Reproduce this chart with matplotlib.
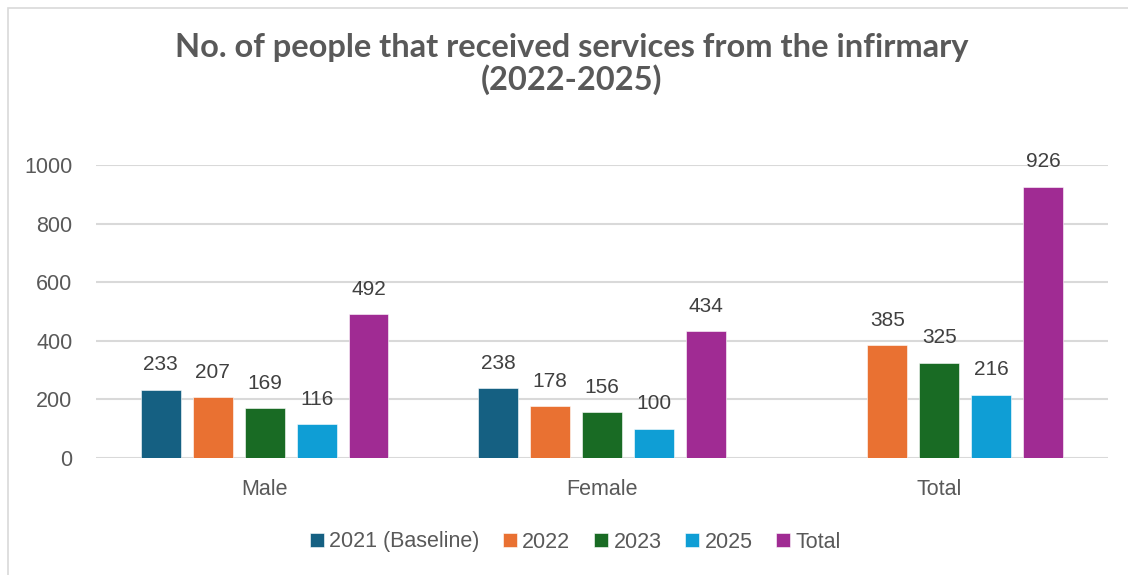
import matplotlib
matplotlib.use("Agg")
import matplotlib.pyplot as plt
from matplotlib.patches import Rectangle
import numpy as np

categories = ["Male", "Female", "Total"]
series_names = ["2021 (Baseline)", "2022", "2023", "2025", "Total"]
v2021 = [233, 238, np.nan]
v2022 = [207, 178, 385]
v2023 = [169, 156, 325]
v2025 = [116, 100, 216]
vtotal = [492, 434, 926]
yticks = [0, 200, 400, 600, 800, 1000]

series = [v2021, v2022, v2023, v2025, vtotal]
colors = ["#156082", "#E97132", "#196B24", "#0F9ED5", "#A02B93"]

plt.rcParams['font.family'] = ['Liberation Sans', 'DejaVu Sans']

fig = plt.figure(figsize=(11.28, 5.75), dpi=100)
ax = fig.add_axes([96/1128, 1-458/575, (1108-96)/1128, (458-165)/575])

# chart frame
fig.patches.append(Rectangle((8/1128, -0.1), 1.2, 1 - 8/575 + 0.1, transform=fig.transFigure,
                             fill=False, edgecolor="#d9d9d9", linewidth=1.2))

x = np.arange(len(categories))
width = 0.118
step = 0.154
for i, (vals, name, c) in enumerate(zip(series, series_names, colors)):
    pos = x + (i - 2) * step
    ax.bar(pos, vals, width=width, color=c, label=name, zorder=3,
           edgecolor="white", linewidth=0.4)
    for p, v in zip(pos, vals):
        if np.isnan(v):
            continue
        ax.annotate(f"{int(v)}", (p, v), xytext=(0, 11), textcoords="offset points",
                    ha="center", va="bottom", fontsize=15, color="#404040")

ax.set_xlim(-0.5, 2.5)
ax.set_ylim(0, 1000)
ax.set_yticks(yticks)
ax.set_yticklabels([str(t) for t in yticks])
ax.set_xticks(x)
ax.set_xticklabels(categories)
ax.tick_params(axis='both', length=0, labelsize=15.5, labelcolor="#595959")
ax.tick_params(axis='y', pad=17)
ax.tick_params(axis='x', pad=15)
ax.yaxis.grid(True, color="#d9d9d9", linewidth=1.5, zorder=0)
for s in ax.spines.values():
    s.set_visible(False)

fig.text(0.507, 1-64/575, "No. of people that received services from the infirmary\n(2022-2025)",
         ha="center", va="center", fontsize=23.5, fontweight="bold", color="#595959",
         family=["Lato", "DejaVu Sans"], linespacing=1.05)

fig.legend(loc="center", bbox_to_anchor=(0.51, 1-542/575), ncol=5, frameon=False,
           fontsize=15.5, handlelength=0.65, handleheight=0.65, handletextpad=0.25,
           columnspacing=1.1, labelcolor="#595959")

fig.savefig("out.png", dpi=100)
